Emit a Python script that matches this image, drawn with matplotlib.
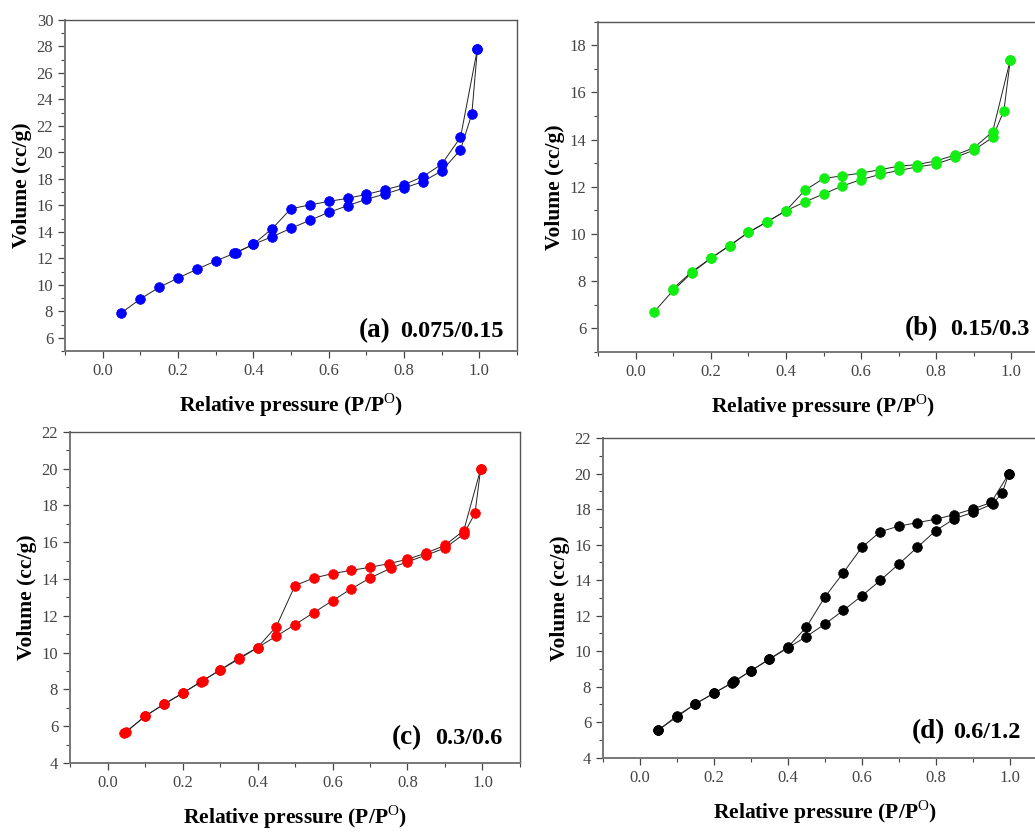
"""N2 adsorption/desorption isotherms for the four sample ratios."""

import matplotlib
matplotlib.use("Agg")
import matplotlib.pyplot as plt
from matplotlib.ticker import MultipleLocator

plt.rcParams["font.family"] = ["Liberation Serif", "DejaVu Serif"]
plt.rcParams["mathtext.fontset"] = "custom"
plt.rcParams["mathtext.rm"] = "Liberation Serif"
plt.rcParams["mathtext.bf"] = "Liberation Serif:bold"

# (a) 0.075/0.15
a_ads_x = [0.05, 0.10, 0.15, 0.20, 0.25, 0.30, 0.35, 0.40, 0.45, 0.50, 0.55, 0.60, 0.65,
           0.70, 0.75, 0.80, 0.85, 0.90, 0.95, 0.98, 0.995]
a_ads_y = [7.89, 8.93, 9.81, 10.51, 11.17, 11.80, 12.38, 13.06, 13.63, 14.27, 14.87, 15.47,
           15.97, 16.46, 16.86, 17.31, 17.79, 18.60, 20.20, 22.90, 27.83]
a_des_x = [0.995, 0.95, 0.90, 0.85, 0.80, 0.75, 0.70, 0.65, 0.60, 0.55, 0.50, 0.45, 0.40, 0.355]
a_des_y = [27.83, 21.14, 19.10, 18.17, 17.56, 17.18, 16.83, 16.53, 16.30, 16.03, 15.75, 14.24,
           13.06, 12.42]

# (b) 0.15/0.3
b_ads_x = [0.05, 0.10, 0.15, 0.20, 0.25, 0.30, 0.35, 0.40, 0.45, 0.50, 0.55, 0.60, 0.65,
           0.70, 0.75, 0.80, 0.85, 0.90, 0.95, 0.98, 0.997]
b_ads_y = [6.70, 7.60, 8.35, 8.96, 9.50, 10.06, 10.51, 10.98, 11.35, 11.69, 12.03, 12.30,
           12.52, 12.69, 12.84, 12.96, 13.24, 13.55, 14.09, 15.22, 17.38]
b_des_x = [0.997, 0.95, 0.90, 0.85, 0.80, 0.75, 0.70, 0.65, 0.60, 0.55, 0.50, 0.45, 0.40,
           0.35, 0.30, 0.25, 0.20, 0.15, 0.10]
b_des_y = [17.38, 14.33, 13.65, 13.34, 13.10, 12.94, 12.87, 12.72, 12.58, 12.46, 12.35, 11.84,
           10.98, 10.51, 10.06, 9.50, 8.96, 8.40, 7.68]

# (c) 0.3/0.6
c_ads_x = [0.045, 0.10, 0.15, 0.20, 0.25, 0.30, 0.35, 0.40, 0.45, 0.50, 0.55, 0.60, 0.65,
           0.70, 0.755, 0.80, 0.85, 0.90, 0.95, 0.98, 0.995]
c_ads_y = [5.61, 6.54, 7.19, 7.79, 8.42, 9.05, 9.64, 10.27, 10.89, 11.52, 12.17, 12.82, 13.46,
           14.05, 14.58, 14.94, 15.29, 15.68, 16.43, 17.57, 19.96]
c_des_x = [0.995, 0.95, 0.90, 0.85, 0.80, 0.75, 0.70, 0.65, 0.60, 0.55, 0.50, 0.45, 0.40,
           0.35, 0.30, 0.255, 0.20, 0.15, 0.10, 0.05]
c_des_y = [19.96, 16.63, 15.83, 15.41, 15.07, 14.83, 14.63, 14.47, 14.29, 14.05, 13.64, 11.41,
           10.27, 9.70, 9.05, 8.48, 7.79, 7.19, 6.54, 5.70]

# (d) 0.6/1.2
d_ads_x = [0.05, 0.10, 0.15, 0.20, 0.25, 0.30, 0.35, 0.40, 0.45, 0.50, 0.55, 0.60, 0.65,
           0.70, 0.75, 0.80, 0.85, 0.90, 0.955, 0.98, 0.998]
d_ads_y = [5.56, 6.30, 7.03, 7.63, 8.22, 8.89, 9.54, 10.18, 10.82, 11.52, 12.29, 13.11, 13.98,
           14.90, 15.84, 16.78, 17.45, 17.81, 18.30, 18.92, 19.99]
d_des_x = [0.998, 0.95, 0.90, 0.85, 0.80, 0.75, 0.70, 0.65, 0.60, 0.55, 0.50, 0.45, 0.40,
           0.35, 0.30, 0.255, 0.20, 0.15, 0.10, 0.05]
d_des_y = [19.99, 18.37, 18.00, 17.68, 17.43, 17.23, 17.04, 16.72, 15.84, 14.41, 13.04, 11.35,
           10.22, 9.56, 8.89, 8.30, 7.63, 7.03, 6.36, 5.56]

panels = [
    ("(a)", "0.075/0.15", "#0000ff", a_ads_x, a_ads_y, a_des_x, a_des_y, (5, 30)),
    ("(b)", "0.15/0.3", "#11ee11", b_ads_x, b_ads_y, b_des_x, b_des_y, (5, 19)),
    ("(c)", "0.3/0.6", "#ff0000", c_ads_x, c_ads_y, c_des_x, c_des_y, (4, 22)),
    ("(d)", "0.6/1.2", "#000000", d_ads_x, d_ads_y, d_des_x, d_des_y, (4, 22)),
]

# axes boxes in pixels: left, top, width, height
W, H = 1035, 832
boxes = [(65, 20, 452, 331), (598, 21.7, 451, 330), (70, 431.7, 450, 331.3), (603, 438, 443.6, 319.7)]
# tag x, ratio x, baseline y (axes fraction)
tag_pos = [(0.650, 0.741, 0.042), (0.681, 0.781, 0.05), (0.716, 0.811, 0.057), (0.696, 0.789, 0.062)]

fig = plt.figure(figsize=(W / 100, H / 100), dpi=100)

for (tag, ratio, color, ax_x, ax_y, dx, dy, ylim), box, tp in zip(panels, boxes, tag_pos):
    l, t, w, h = box
    ax = fig.add_axes([l / W, 1 - (t + h) / H, w / W, h / H])
    for xs, ys in ((ax_x, ax_y), (dx, dy)):
        ax.plot(xs, ys, color="#222222", lw=0.7, marker="o", ms=7,
                mfc=color, mec=color, mew=0.5, zorder=3)
    ax.set_xlim(-0.1, 1.1)
    ax.set_ylim(*ylim)
    ax.xaxis.set_major_locator(MultipleLocator(0.2))
    ax.xaxis.set_minor_locator(MultipleLocator(0.1))
    ax.yaxis.set_major_locator(MultipleLocator(2))
    ax.yaxis.set_minor_locator(MultipleLocator(1))
    ax.set_xticks([0.0, 0.2, 0.4, 0.6, 0.8, 1.0])
    ax.tick_params(which="both", direction="out", color="#444444", labelsize=12,
                   labelcolor="#444444", top=False, right=False)
    ax.tick_params(which="major", length=5, width=0.9)
    ax.tick_params(which="minor", length=3, width=0.8)
    for side, sp in ax.spines.items():
        sp.set_color("#777777" if side in ("left", "bottom") else "#555555")
        sp.set_linewidth(1.4 if side in ("left", "bottom") else 1.0)
    ax.set_xlabel(r"Relative pressure (P/P$^{\mathrm{O}}$)", fontsize=15.5,
                  fontweight="bold", labelpad=9)
    ax.set_ylabel("Volume (cc/g)", fontsize=15.5, fontweight="bold", labelpad=3)
    ax.text(tp[0], tp[2], tag, transform=ax.transAxes, fontsize=19.5,
            fontweight="bold", va="baseline", ha="left")
    ax.text(tp[1], tp[2], ratio, transform=ax.transAxes, fontsize=17.5,
            fontweight="bold", va="baseline", ha="left")

fig.savefig("out.png", dpi=100, facecolor="white")
